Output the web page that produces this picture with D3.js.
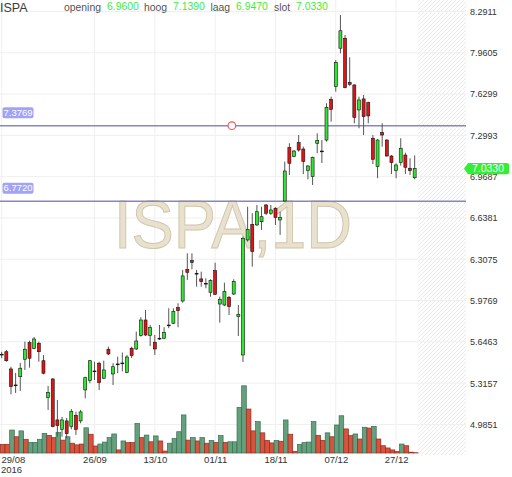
<!DOCTYPE html>
<html>
<head>
<meta charset="utf-8">
<script src="https://cdnjs.cloudflare.com/ajax/libs/d3/7.8.5/d3.min.js"></script>
<style>
  body { margin: 0; background: #fff; }
  svg { display: block; font-family: "Liberation Sans", Arial, sans-serif; }
</style>
</head>
<body>
<script>
// daily candles ISPA, 29/08/2016 .. 30/12/2016
var opens = [5.547, 5.567, 5.429, 5.301, 5.367, 5.507, 5.640, 5.592, 5.635, 5.495,
  5.199, 5.349, 5.021, 4.946, 5.013, 4.967, 5.058, 5.013, 5.261, 5.335,
  5.413, 5.475, 5.355, 5.587, 5.389, 5.469, 5.477, 5.401, 5.595, 5.589,
  5.696, 5.821, 5.696, 5.643, 5.675, 5.675, 5.781, 5.795, 5.920, 5.973,
  6.227, 6.296, 6.195, 6.150, 6.115, 6.043, 6.216, 5.949, 5.941, 6.003,
  6.029, 5.848, 5.541, 6.462, 6.587, 6.582, 6.608, 6.742, 6.676, 6.716,
  6.622, 6.774, 7.201, 7.129, 7.241, 7.190, 7.017, 6.969, 7.236, 7.174,
  7.262, 7.588, 7.689, 7.997, 8.077, 7.724, 7.703, 7.503, 7.591, 7.561,
  7.276, 7.049, 7.321, 7.262, 7.134, 7.017, 7.081, 7.142, 7.036, 6.960];
var highs = [5.567, 5.581, 5.447, 5.397, 5.477, 5.648, 5.656, 5.685, 5.648, 5.541,
  5.293, 5.354, 5.181, 5.045, 5.037, 5.109, 5.087, 5.101, 5.367, 5.501,
  5.487, 5.487, 5.495, 5.608, 5.475, 5.528, 5.560, 5.541, 5.608, 5.728,
  5.843, 5.901, 5.781, 5.701, 5.781, 5.763, 5.915, 5.915, 5.955, 6.222,
  6.355, 6.355, 6.222, 6.208, 6.155, 6.147, 6.280, 6.008, 6.120, 6.013,
  6.147, 5.941, 6.488, 6.728, 6.676, 6.742, 6.728, 6.750, 6.742, 6.724,
  6.688, 7.089, 7.236, 7.182, 7.302, 7.209, 7.062, 7.129, 7.316, 7.262,
  7.556, 7.609, 7.903, 8.263, 8.103, 7.924, 7.708, 7.609, 7.623, 7.569,
  7.302, 7.268, 7.396, 7.268, 7.142, 7.076, 7.276, 7.161, 7.116, 7.139];
var lows = [5.515, 5.487, 5.226, 5.237, 5.253, 5.421, 5.439, 5.587, 5.487, 5.386,
  5.101, 4.962, 4.887, 4.887, 4.874, 4.946, 4.901, 4.994, 5.194, 5.315,
  5.341, 5.261, 5.347, 5.541, 5.301, 5.395, 5.410, 5.395, 5.517, 5.581,
  5.688, 5.693, 5.613, 5.541, 5.661, 5.667, 5.755, 5.789, 5.763, 5.960,
  6.142, 6.227, 6.088, 6.088, 6.075, 6.008, 6.021, 5.800, 5.933, 5.861,
  6.021, 5.693, 5.485, 6.448, 6.248, 6.574, 6.542, 6.662, 6.662, 6.582,
  6.502, 6.768, 6.982, 7.124, 7.169, 6.989, 6.948, 6.902, 7.156, 7.078,
  7.249, 7.409, 7.649, 7.956, 7.676, 7.695, 7.396, 7.356, 7.302, 7.396,
  7.070, 6.956, 7.209, 7.129, 6.989, 6.956, 7.057, 6.990, 6.982, 6.947];
var closes = [5.547, 5.495, 5.287, 5.301, 5.435, 5.587, 5.515, 5.669, 5.567, 5.395,
  5.242, 4.967, 4.975, 5.021, 4.911, 5.087, 4.946, 5.085, 5.359, 5.495,
  5.413, 5.319, 5.421, 5.549, 5.447, 5.469, 5.477, 5.525, 5.536, 5.653,
  5.821, 5.701, 5.760, 5.589, 5.675, 5.720, 5.781, 5.888, 5.896, 6.174,
  6.203, 6.283, 6.195, 6.128, 6.115, 6.136, 6.027, 5.987, 6.048, 5.928,
  6.128, 5.867, 6.475, 6.547, 6.368, 6.688, 6.648, 6.676, 6.702, 6.643,
  6.643, 7.014, 7.076, 7.174, 7.182, 7.089, 7.054, 7.124, 7.257, 7.174,
  7.523, 7.508, 7.884, 8.137, 7.681, 7.708, 7.444, 7.583, 7.449, 7.455,
  7.108, 7.262, 7.302, 7.134, 7.081, 7.062, 7.196, 7.044, 7.017, 7.033];
// volume in millions of shares
var volumes = [31, 31, 82, 58, 79, 49, 38, 38, 49, 70,
  63, 55, 74, 46, 58, 35, 29, 32, 90, 67,
  25, 32, 39, 55, 68, 11, 43, 37, 37, 106,
  55, 64, 40, 61, 43, 7, 35, 52, 76, 136,
  46, 55, 43, 55, 35, 45, 38, 62, 38, 40,
  40, 163, 240, 157, 79, 112, 72, 45, 36, 45,
  42, 118, 67, 6, 31, 37, 39, 112, 63, 45,
  72, 58, 100, 133, 86, 62, 68, 50, 92, 89,
  95, 50, 26, 18, 11, 5, 32, 26, 3, 1];
// 1 = buying volume (green bar), 0 = selling volume (red bar)
var volUp = [0, 0, 1, 0, 1, 0, 1, 1, 1, 1,
  0, 0, 1, 0, 1, 0, 0, 0, 1, 0,
  0, 1, 1, 1, 1, 0, 1, 0, 0, 1,
  0, 1, 0, 1, 0, 0, 1, 1, 1, 1,
  0, 1, 0, 1, 0, 1, 0, 1, 0, 1,
  1, 1, 1, 0, 0, 1, 0, 0, 0, 1,
  0, 1, 0, 0, 1, 1, 1, 1, 0, 0,
  1, 0, 1, 1, 0, 0, 1, 0, 1, 0,
  1, 0, 0, 0, 0, 0, 1, 0, 0, 0];

var priceTicks = [8.2911, 7.9605, 7.6299, 7.2993, 6.9687, 6.6381, 6.3075, 5.9769, 5.6463, 5.3157, 4.9851];
var dateIdx = [0, 20, 33, 46, 59, 72, 85];
var dateLabels = ["29/08", "26/09", "13/10", "01/11", "18/11", "07/12", "27/12"];
var yearLabel = "2016";
var levels = [7.3769, 6.7720];
var alertPoint = {idx: 49.6, price: 7.3769};
var symbol = "ISPA";
var period = "1D";

function main() {
  var width = 512, height = 477;
  var plotRight = 466, plotBottom = 455, volBase = 453;
  var n = closes.length;

  var candles = d3.range(n).map(function(i) {
    return {i: i, open: opens[i], high: highs[i], low: lows[i], close: closes[i],
            vol: volumes[i], volUp: volUp[i]};
  });

  var x = d3.scaleLinear().domain([0, 100]).range([1.7, 465.7]);
  var y = d3.scaleLinear().domain([4.9851, 8.2911]).range([424.4, 11.5]);
  var yv = d3.scaleLinear().domain([0, 250]).range([volBase, 383]);
  var step = x(1) - x(0);

  var svg = d3.select("body").append("svg")
    .attr("width", width)
    .attr("height", height);

  // hatch for the empty future area
  var defs = svg.append("defs");
  defs.append("pattern")
    .attr("id", "hatch")
    .attr("patternUnits", "userSpaceOnUse")
    .attr("width", 4).attr("height", 4)
    .append("path")
      .attr("d", "M-1,1 l2,-2 M0,4 l4,-4 M3,5 l2,-2")
      .attr("stroke", "#e4e4e4")
      .attr("stroke-width", 0.8);

  svg.append("rect")
    .attr("x", x(n - 1) + 3.3)
    .attr("y", 0)
    .attr("width", plotRight - x(n - 1) - 3.3)
    .attr("height", plotBottom)
    .attr("fill", "url(#hatch)");

  // grid
  svg.append("g").selectAll("line")
    .data(priceTicks).enter()
    .append("line")
      .attr("x1", 0).attr("x2", plotRight)
      .attr("y1", function(d) { return y(d); })
      .attr("y2", function(d) { return y(d); })
      .attr("stroke", "#efefef");

  svg.append("g").selectAll("line")
    .data(dateIdx).enter()
    .append("line")
      .attr("x1", function(d) { return x(d); })
      .attr("x2", function(d) { return x(d); })
      .attr("y1", 0).attr("y2", plotBottom)
      .attr("stroke", "#efefef");

  // watermark
  svg.append("text")
    .attr("x", 114)
    .attr("y", 248)
    .attr("font-size", 68)
    .attr("textLength", 238)
    .attr("lengthAdjust", "spacingAndGlyphs")
    .attr("fill", "#e8e1d0")
    .attr("stroke", "#d2c6a9")
    .attr("stroke-width", 1)
    .text(symbol + "," + period);

  // level lines
  svg.append("g").selectAll("line")
    .data(levels).enter()
    .append("line")
      .attr("x1", 0).attr("x2", plotRight)
      .attr("y1", function(d) { return y(d); })
      .attr("y2", function(d) { return y(d); })
      .attr("stroke", "#8686c6")
      .attr("stroke-width", 1.6);

  // volume
  svg.append("g").selectAll("rect")
    .data(candles).enter()
    .append("rect")
      .attr("x", function(d) { return x(d.i) - step / 2 + 1; })
      .attr("y", function(d) { return yv(d.vol); })
      .attr("width", step)
      .attr("height", function(d) { return volBase - yv(d.vol); })
      .attr("fill", function(d) { return d.volUp ? "#64a07e" : "#d8533d"; })
      .attr("stroke", function(d) { return d.volUp ? "#3b6e52" : "#8c2d1e"; })
      .attr("stroke-width", 0.7);

  // candles
  var cg = svg.append("g");
  cg.selectAll("line")
    .data(candles).enter()
    .append("line")
      .attr("x1", function(d) { return x(d.i); })
      .attr("x2", function(d) { return x(d.i); })
      .attr("y1", function(d) { return y(d.high); })
      .attr("y2", function(d) { return y(d.low); })
      .attr("stroke", "#555")
      .attr("stroke-width", 1);

  cg.selectAll("rect")
    .data(candles).enter()
    .append("rect")
      .attr("x", function(d) { return x(d.i) - 1.5; })
      .attr("y", function(d) { return y(Math.max(d.open, d.close)); })
      .attr("width", 3)
      .attr("height", function(d) { return Math.max(Math.abs(y(d.open) - y(d.close)), 0.8); })
      .attr("fill", function(d) {
        if (d.close === d.open) return "#111";
        return d.close > d.open ? "#2ee82e" : "#e01414";
      })
      .attr("stroke", "#111")
      .attr("stroke-width", 0.6);

  // alert marker
  svg.append("circle")
    .attr("cx", x(alertPoint.idx))
    .attr("cy", y(alertPoint.price))
    .attr("r", 3.8)
    .attr("fill", "#fff")
    .attr("stroke", "#f25858")
    .attr("stroke-width", 1.2);

  // level labels
  var fmt = d3.format(".4f");
  var lab = svg.append("g").selectAll("g")
    .data(levels).enter()
    .append("g")
      .attr("transform", function(d) { return "translate(2.5," + (y(d) - 18.5) + ")"; });
  lab.append("rect")
    .attr("width", 31).attr("height", 11).attr("rx", 2)
    .attr("fill", "#a2a2f6");
  lab.append("text")
    .attr("x", 15.5).attr("y", 8.7)
    .attr("text-anchor", "middle")
    .attr("font-size", 9.5)
    .attr("fill", "#fff")
    .text(function(d) { return fmt(d); });

  // price axis
  var yAxis = svg.append("g")
    .attr("transform", "translate(468,0)")
    .call(d3.axisRight(y).tickValues(priceTicks).tickSize(0).tickPadding(2)
      .tickFormat(function(d) { return fmt(d); }));
  yAxis.select(".domain").remove();
  yAxis.selectAll("text")
    .attr("font-size", 9)
    .attr("font-family", "Liberation Sans, Arial, sans-serif")
    .attr("fill", "#333");

  // last price tag
  var last = candles[n - 1];
  var yc = y(last.close);
  svg.append("path")
    .attr("d", "M464," + yc + " L468," + (yc - 5.6) + " H507 Q509," + (yc - 5.6) + " 509," + (yc - 3.6) +
               " V" + (yc + 3.6) + " Q509," + (yc + 5.6) + " 507," + (yc + 5.6) + " H468 Z")
    .attr("fill", "#33ee33");
  svg.append("text")
    .attr("x", 488).attr("y", yc + 3.8)
    .attr("text-anchor", "middle")
    .attr("font-size", 10.5)
    .attr("fill", "#fff")
    .text(fmt(last.close));

  // date axis
  var xAxis = svg.append("g")
    .attr("transform", "translate(0," + 453 + ")")
    .call(d3.axisBottom(x).tickValues(dateIdx).tickSize(0).tickPadding(3)
      .tickFormat(function(d, i) { return dateLabels[i]; }));
  xAxis.select(".domain").remove();
  xAxis.selectAll("text")
    .attr("font-size", 9.5)
    .attr("font-family", "Liberation Sans, Arial, sans-serif")
    .attr("fill", "#333");
  xAxis.selectAll(".tick").filter(function(d) { return d === 0; })
    .select("text")
      .attr("text-anchor", "start")
      .attr("x", -0.7);

  svg.append("text")
    .attr("x", 1).attr("y", 472.5)
    .attr("font-size", 9.5)
    .attr("fill", "#333")
    .text(yearLabel);

  // header
  svg.append("text")
    .attr("x", 0).attr("y", 11.5)
    .attr("font-size", 12.5)
    .attr("fill", "#3a3a3a")
    .text(symbol);

  var header = [
    {label: "opening", value: last.open, lx: 64, vx: 107},
    {label: "hoog", value: last.high, lx: 144, vx: 173},
    {label: "laag", value: last.low, lx: 210.5, vx: 236},
    {label: "slot", value: last.close, lx: 274, vx: 296}
  ];
  var hg = svg.append("g").selectAll("g")
    .data(header).enter()
    .append("g");
  hg.append("text")
    .attr("x", function(d) { return d.lx; })
    .attr("y", 10.5)
    .attr("font-size", 10.4)
    .attr("fill", "#555")
    .text(function(d) { return d.label; });
  hg.append("text")
    .attr("x", function(d) { return d.vx; })
    .attr("y", 9.5)
    .attr("font-size", 10.4)
    .attr("fill", "#3ded3d")
    .text(function(d) { return fmt(d.value); });
}

window.onload = function() {
  main();
};
</script>
</body>
</html>
